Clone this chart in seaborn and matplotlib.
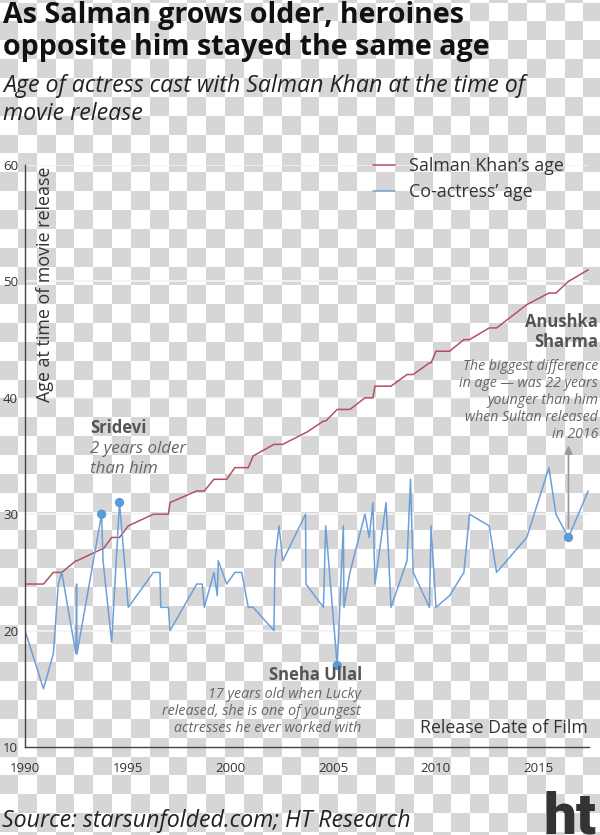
import numpy as np
import pandas as pd
import matplotlib
matplotlib.use("Agg")
import matplotlib.pyplot as plt
from matplotlib.colors import ListedColormap
import seaborn as sns

# ---------------------------------------------------------------------------
# DATA : release date of each film, ages at release
# ---------------------------------------------------------------------------
release_year = [
    1990.00, 1990.90, 1991.38, 1991.62, 1991.79, 1992.48, 1992.51, 1992.53,
    1993.73, 1993.80, 1994.22, 1994.60, 1995.03, 1996.25, 1996.57, 1996.61,
    1996.98, 1997.06, 1998.36, 1998.63, 1998.73, 1999.20, 1999.36, 1999.41,
    1999.82, 2000.22, 2000.55, 2000.87, 2001.11, 2002.12, 2002.17, 2002.37,
    2002.55, 2003.66, 2003.68, 2004.53, 2004.64, 2005.20, 2005.50, 2005.53,
    2005.82, 2006.55, 2006.76, 2006.94, 2007.04, 2007.58, 2007.82, 2008.60,
    2008.77, 2008.90, 2009.69, 2009.77, 2010.01, 2010.67, 2011.37, 2011.64,
    2012.60, 2012.96, 2014.43, 2015.51, 2015.85, 2016.46, 2017.42,
]
salman_age = [
    24, 24, 25, 25, 25, 26, 26, 26,
    27, 27, 28, 28, 29, 30, 30, 30,
    30, 31, 32, 32, 32, 33, 33, 33,
    33, 34, 34, 34, 35, 36, 36, 36,
    36, 37, 37, 38, 38, 39, 39, 39,
    39, 40, 40, 40, 41, 41, 41, 42,
    42, 42, 43, 43, 44, 44, 45, 45,
    46, 46, 48, 49, 49, 50, 51,
]
actress_age = [
    20, 15, 18, 24, 25, 18, 24, 18,
    30, 26, 19, 31, 22, 25, 25, 22,
    22, 20, 24, 24, 22, 25, 23, 26,
    24, 25, 25, 22, 22, 20, 26, 29,
    26, 30, 24, 22, 29, 17, 29, 22,
    25, 30, 28, 31, 24, 31, 22, 26,
    33, 25, 22, 29, 22, 23, 25, 30,
    29, 25, 28, 34, 30, 28, 32,
]
# Sridevi (x2), Sneha Ullal, Anushka Sharma
highlight_idx = [8, 11, 37, 61]

y_ticks = [10, 20, 30, 40, 50, 60]
x_ticks = [1990, 1995, 2000, 2005, 2010, 2015]
x_end = 2017.46

label_salman = "Salman Khan\u2019s age"
label_actress = "Co-actress\u2019 age"

# ---------------------------------------------------------------------------
# STYLE
# ---------------------------------------------------------------------------
sns.set_style("white")
plt.rcParams["font.family"] = ["Open Sans", "DejaVu Sans"]

RED = "#b4505f"
BLUE = "#6d9fd8"
DOT = "#5b9bd5"
NOTE_BOLD = "#555555"
NOTE_IT = "#666666"

W, H = 600, 835


def fx(x):
    return x / W


def fy(y):
    return 1 - y / H


fig = plt.figure(figsize=(W / 100, H / 100), dpi=100)

# transparent-look checkerboard background
bg = fig.add_axes([0, 0, 1, 1], zorder=-5)
sq = 18.85
xx, yy = np.meshgrid(np.arange(W) + 0.5, np.arange(H) + 0.5)
checker = (np.floor((xx + 1) / sq) + np.floor((yy - 2.6) / sq)) % 2
bg.imshow(checker, cmap=ListedColormap(["#ffffff", "#d6d6d6"]),
          interpolation="nearest", extent=(0, W, H, 0), aspect="auto")
bg.axis("off")

ax = fig.add_axes([fx(25), fy(747), fx(589) - fx(25), fy(165) - fy(747)])
ax.set_facecolor("none")

df = pd.DataFrame({
    "year": release_year + release_year,
    "age": salman_age + actress_age,
    "series": [label_salman] * len(salman_age) + [label_actress] * len(actress_age),
})
sns.lineplot(data=df, x="year", y="age", hue="series",
             palette={label_salman: RED, label_actress: BLUE},
             estimator=None, linewidth=1.1, ax=ax)

sns.scatterplot(x=[release_year[i] for i in highlight_idx],
                y=[actress_age[i] for i in highlight_idx],
                color=DOT, s=45, edgecolor="none", zorder=5, ax=ax, legend=False)

ax.set_xlim(1990, x_end)
ax.set_ylim(10, 60)
ax.set_xticks(x_ticks)
ax.set_xticks([x_end], minor=True)
ax.set_yticks(y_ticks)
ax.set_xlabel("")
ax.set_ylabel("")
for t in y_ticks[1:]:
    ax.axhline(t, color="#f3f3f3", lw=1.2, zorder=0)

sns.despine(ax=ax)
for s in ["left", "bottom"]:
    ax.spines[s].set_color("#444444")
    ax.spines[s].set_linewidth(1.0)
ax.tick_params(axis="both", which="both", direction="out", length=4,
               width=1, color="#444444", labelsize=9.5, labelcolor="#333333")
ax.tick_params(axis="y", pad=1)
ax.tick_params(axis="x", pad=7)

handles, labels = ax.get_legend_handles_labels()
ax.legend(handles, labels, loc="upper left",
          bbox_to_anchor=(fx(373), fy(157)), bbox_transform=fig.transFigure,
          frameon=False, fontsize=12.8, handlelength=1.25, handletextpad=0.75,
          labelspacing=0.45, borderpad=0, borderaxespad=0, labelcolor="#333333")

# arrow towards Anushka Sharma
ia = highlight_idx[3]
ax.annotate("", xy=(release_year[ia], 35.9), xytext=(release_year[ia], actress_age[ia] + 0.8),
            arrowprops=dict(arrowstyle="-|>", color="#999999", lw=1.2,
                            mutation_scale=12, shrinkA=0, shrinkB=0))

# ---------------------------------------------------------------------------
# TEXTS
# ---------------------------------------------------------------------------
fig.text(fx(3), fy(23), "As Salman grows older, heroines", fontsize=20.6,
         fontweight="bold", color="#111111", va="baseline")
fig.text(fx(3), fy(55), "opposite him stayed the same age", fontsize=20.6,
         fontweight="bold", color="#111111", va="baseline")
fig.text(fx(3), fy(92), "Age of actress cast with Salman Khan at the time of",
         fontsize=16.7, style="italic", color="#222222", va="baseline")
fig.text(fx(3), fy(120), "movie release", fontsize=16.7, style="italic",
         color="#222222", va="baseline")

fig.text(fx(45), fy(284), "Age at time of movie release", rotation=90,
         ha="center", va="center", fontsize=12.9, color="#333333")

fig.text(fx(90), fy(433), "Sridevi", fontsize=12, fontweight="bold",
         color=NOTE_BOLD, va="baseline")
fig.text(fx(90), fy(453), "2 years older", fontsize=12.2, style="italic",
         color=NOTE_IT, va="baseline")
fig.text(fx(90), fy(473), "than him", fontsize=12.2, style="italic",
         color=NOTE_IT, va="baseline")

fig.text(fx(598), fy(327), "Anushka", fontsize=12, fontweight="bold",
         color=NOTE_BOLD, ha="right", va="baseline")
fig.text(fx(598), fy(347), "Sharma", fontsize=12, fontweight="bold",
         color=NOTE_BOLD, ha="right", va="baseline")
anushka_lines = ["The biggest difference", "in age \u2014 was 22 years",
                 "younger than him", "when Sultan released", "in 2016"]
for k, line in enumerate(anushka_lines):
    fig.text(fx(598), fy(370 + 17.1 * k), line, fontsize=10.2, style="italic",
             color=NOTE_IT, ha="right", va="baseline")

fig.text(fx(362), fy(680), "Sneha Ullal", fontsize=12, fontweight="bold",
         color=NOTE_BOLD, ha="right", va="baseline")
sneha_lines = ["17 years old when Lucky", "released, she is one of youngest",
               "actresses he ever worked with"]
for k, line in enumerate(sneha_lines):
    fig.text(fx(361), fy(698 + 17 * k), line, fontsize=10.3, style="italic",
             color=NOTE_IT, ha="right", va="baseline")

fig.text(fx(588), fy(733), "Release Date of Film", fontsize=12.8,
         color="#333333", ha="right", va="baseline")

fig.text(fx(2), fy(827), "Source: starsunfolded.com; HT Research",
         fontsize=16.7, style="italic", color="#222222", va="baseline")
fig.text(fx(597), fy(834), "ht", fontsize=42, fontweight="heavy",
         family=["Roboto", "DejaVu Sans"], color="#333333", ha="right", va="baseline")

fig.savefig("out.png", dpi=100)
plt.close(fig)
